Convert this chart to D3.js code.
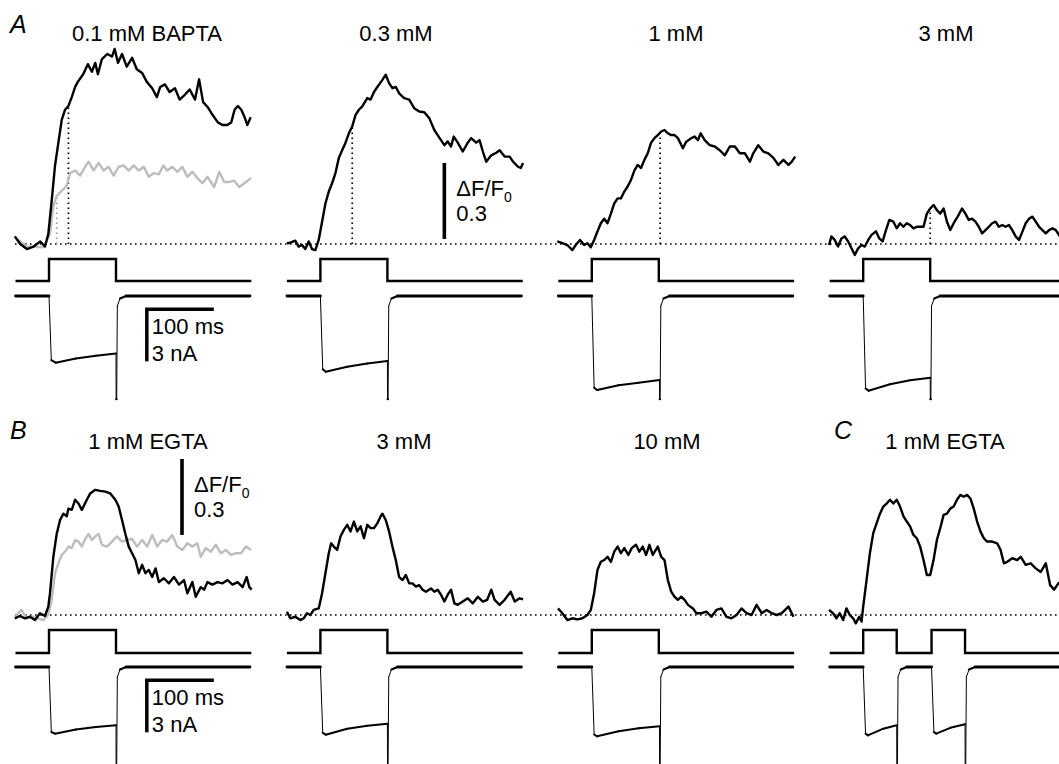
<!DOCTYPE html>
<html>
<head>
<meta charset="utf-8">
<script src="https://cdn.jsdelivr.net/npm/d3@7/dist/d3.min.js"></script>
<style>
  body { margin: 0; background: #fff; }
  svg { display: block; font-family: "Liberation Sans", Arial, Helvetica, sans-serif; }
</style>
</head>
<body>
<svg id="fig" width="1059" height="764"></svg>
<script>
// ---- data: time in ms (pulse onset = 0), fluorescence in dF/F0, current in nA ----
const panelTitles = ["0.1 mM BAPTA", "0.3 mM", "1 mM", "3 mM", "1 mM EGTA", "3 mM", "10 mM", "1 mM EGTA"];
const panelLetters = [["A", 0], ["B", 4], ["C", 7]];

const bapta01 = [[-51,0.03],[-43,0.0],[-33,-0.02],[-23,-0.01],[-13,0.01],[-6,-0.01],[-1,0.04],[4,0.17],[9,0.31],[14,0.40],[19,0.49],[24,0.53],[29,0.545],[34,0.58],[39,0.62],[43,0.64],[51,0.67],[58,0.71],[64,0.68],[69,0.715],[73,0.67],[79,0.73],[87,0.75],[94,0.74],[98,0.77],[103,0.715],[109,0.75],[116,0.70],[124,0.735],[131,0.69],[139,0.675],[146,0.64],[154,0.615],[161,0.58],[166,0.62],[173,0.63],[180,0.60],[188,0.615],[195,0.57],[203,0.59],[210,0.61],[218,0.57],[224,0.65],[230,0.56],[237,0.54],[244,0.51],[252,0.48],[259,0.47],[266,0.47],[272,0.48],[277,0.53],[282,0.545],[287,0.53],[292,0.50],[296,0.47],[301,0.50]];
const bapta01Ctrl = [[-51,0.026],[-33,-0.01],[-8,-0.013],[1.5,0.04],[6.5,0.15],[11.5,0.19],[19,0.21],[26.5,0.23],[31.5,0.28],[39,0.29],[46.5,0.27],[54,0.305],[59,0.325],[66.5,0.29],[74,0.32],[81.5,0.29],[89,0.305],[96.5,0.27],[104,0.305],[111.5,0.31],[119,0.29],[126.5,0.31],[134,0.29],[141.5,0.305],[149,0.265],[156.5,0.28],[164,0.275],[170.5,0.31],[176.5,0.29],[184,0.305],[191.5,0.285],[199,0.305],[206.5,0.265],[214,0.285],[221.5,0.26],[229,0.24],[236.5,0.265],[246.5,0.225],[254,0.285],[261.5,0.245],[269,0.245],[276.5,0.25],[284,0.225],[291.5,0.24],[301.5,0.26]];
const bapta03 = [[-50,0.003],[-45,0.005],[-37.5,0.013],[-32.5,-0.01],[-27.5,-0.004],[-22.5,-0.02],[-17.5,0.01],[-12.5,-0.02],[-7.5,-0.024],[-2.5,0.016],[2.5,0.088],[7.5,0.16],[12.5,0.207],[17.5,0.24],[22.5,0.28],[27.5,0.34],[32.5,0.37],[37.5,0.40],[42.5,0.437],[47.5,0.464],[52.5,0.51],[57.5,0.53],[62.5,0.543],[70,0.576],[75,0.57],[80,0.60],[85,0.62],[92.5,0.648],[97.5,0.668],[102.5,0.635],[107.5,0.615],[112.5,0.62],[117.5,0.595],[125,0.576],[132.5,0.57],[140,0.536],[147.5,0.523],[155,0.52],[162.5,0.497],[170,0.45],[175,0.43],[180,0.41],[185,0.39],[190,0.405],[195,0.385],[199,0.424],[205,0.40],[212.5,0.365],[220,0.40],[225,0.418],[232.5,0.40],[237.5,0.41],[242.5,0.365],[247.5,0.325],[255,0.35],[262.5,0.36],[267.5,0.37],[275,0.345],[282.5,0.345],[287.5,0.325],[295,0.305],[299,0.30],[302.5,0.32]];
const bapta1 = [[-51.5,0.01],[-44,0.003],[-36.5,-0.004],[-29,-0.024],[-24,-0.004],[-17.5,0.016],[-11.5,-0.004],[-6.5,0.003],[-1.5,-0.013],[3.5,0.016],[8.5,0.05],[13.5,0.082],[18.5,0.10],[23.5,0.082],[28.5,0.12],[33.5,0.16],[38.5,0.18],[43.5,0.18],[48.5,0.207],[53.5,0.227],[58.5,0.253],[63.5,0.29],[68.5,0.312],[73.5,0.30],[78.5,0.332],[83.5,0.358],[88.5,0.40],[93.5,0.418],[98.5,0.43],[103.5,0.444],[108.5,0.45],[113.5,0.437],[118.5,0.43],[123.5,0.43],[128.5,0.418],[136,0.378],[141,0.404],[148.5,0.418],[153.5,0.424],[158.5,0.41],[162.5,0.437],[168.5,0.41],[176,0.39],[183.5,0.385],[191,0.37],[198.5,0.35],[206,0.385],[213.5,0.385],[221,0.358],[228.5,0.358],[236,0.325],[241,0.358],[248.5,0.39],[256,0.365],[263.5,0.358],[271,0.34],[278.5,0.312],[286,0.332],[293.5,0.312],[298.5,0.325],[303.5,0.345]];
const bapta3 = [[-51,-0.004],[-47.5,0.03],[-42.5,0.016],[-37.5,-0.01],[-32.5,0.022],[-27.5,0.03],[-22.5,0.01],[-17.5,-0.017],[-12.5,-0.043],[-7.5,-0.017],[-2.5,-0.004],[2.5,-0.01],[7.5,0.016],[12.5,0.036],[19,0.05],[24,0.022],[29,0.01],[34,0.055],[39,0.095],[45,0.088],[50,0.062],[55,0.082],[60,0.068],[65,0.082],[70,0.075],[75,0.062],[80,0.068],[85,0.068],[90,0.068],[95,0.12],[100,0.14],[105,0.154],[110,0.134],[115,0.12],[120,0.14],[125,0.088],[130,0.055],[135,0.082],[141,0.108],[147.5,0.14],[152.5,0.12],[157.5,0.095],[162.5,0.10],[167.5,0.088],[172.5,0.068],[177.5,0.042],[182.5,0.055],[187.5,0.068],[192.5,0.082],[197.5,0.088],[202.5,0.068],[207.5,0.075],[212.5,0.068],[217.5,0.075],[222.5,0.055],[227.5,0.03],[232.5,0.016],[237.5,0.048],[242.5,0.082],[247.5,0.10],[252.5,0.108],[257.5,0.088],[262.5,0.068],[267.5,0.055],[272.5,0.042],[277.5,0.055],[282.5,0.062],[287.5,0.055],[293.5,0.03]];
const egta1 = [[-51,-0.013],[-43.5,-0.004],[-36,-0.013],[-28.5,-0.007],[-21,-0.02],[-13.5,0.007],[-6,-0.004],[-1,0.033],[1.5,0.086],[6.5,0.23],[11.5,0.32],[16.5,0.375],[21.5,0.40],[26.5,0.39],[29,0.42],[34,0.415],[39,0.455],[44,0.44],[49,0.415],[56.5,0.455],[61.5,0.48],[69,0.494],[76.5,0.49],[84,0.487],[91.5,0.48],[99,0.455],[104,0.428],[109,0.375],[114,0.32],[119,0.27],[124,0.244],[129,0.217],[134,0.165],[139,0.198],[144,0.165],[149,0.178],[154,0.15],[159,0.184],[164,0.13],[171.5,0.145],[179,0.125],[186.5,0.15],[194,0.12],[201.5,0.138],[206.5,0.086],[214,0.13],[219,0.072],[226.5,0.11],[231.5,0.10],[236.5,0.13],[244,0.12],[251.5,0.13],[259,0.125],[266.5,0.138],[274,0.12],[281.5,0.13],[289,0.11],[295,0.15],[299,0.11],[302.5,0.10]];
const egta1Ctrl = [[-51,-0.007],[-41,0.02],[-33.5,-0.013],[-23.5,-0.007],[-8.5,-0.02],[-1,0.0],[4,0.06],[9,0.165],[14,0.204],[19,0.237],[24,0.25],[29,0.27],[34,0.264],[39,0.296],[44,0.29],[49,0.27],[54,0.30],[59,0.32],[64,0.296],[69,0.31],[74,0.32],[79,0.277],[86.5,0.27],[94,0.29],[101.5,0.31],[109,0.29],[116.5,0.296],[124,0.30],[131.5,0.27],[139,0.296],[146.5,0.27],[154,0.316],[161.5,0.27],[169,0.296],[176.5,0.29],[184,0.316],[191.5,0.27],[199,0.257],[206.5,0.283],[214,0.27],[221.5,0.283],[226.5,0.23],[234,0.264],[241.5,0.25],[249,0.277],[256.5,0.244],[264,0.257],[271.5,0.237],[279,0.244],[286.5,0.244],[294,0.27],[301.5,0.257]];
const egta3 = [[-50,0.013],[-45,-0.013],[-37.5,-0.007],[-30,-0.02],[-25,-0.013],[-20,0.007],[-15,0.0],[-10,0.02],[-2.5,0.026],[2.5,0.086],[7.5,0.165],[12.5,0.244],[16,0.283],[20,0.27],[25,0.257],[30,0.31],[35,0.336],[40,0.356],[45,0.33],[50,0.369],[55,0.33],[60,0.35],[65,0.303],[70,0.356],[75,0.343],[80,0.343],[85,0.362],[90,0.39],[92.5,0.40],[97.5,0.375],[102.5,0.33],[107.5,0.27],[112.5,0.217],[117.5,0.15],[122.5,0.138],[127.5,0.158],[132.5,0.125],[137.5,0.125],[142.5,0.112],[147.5,0.118],[152.5,0.10],[157.5,0.092],[165,0.105],[170,0.092],[175,0.10],[180,0.08],[185,0.053],[190,0.08],[195,0.10],[200,0.046],[205,0.04],[212.5,0.053],[220,0.066],[227.5,0.046],[235,0.072],[242.5,0.053],[249,0.06],[255,0.10],[260,0.06],[267.5,0.04],[275,0.06],[284,0.092],[290,0.053],[297.5,0.066],[302.5,0.062]];
const egta10 = [[-50.5,0.026],[-44,0.007],[-36.5,-0.02],[-29,-0.013],[-21.5,-0.017],[-14,-0.013],[-6.5,0.0],[-1.5,0.02],[3.5,0.086],[8.5,0.178],[13.5,0.21],[18.5,0.217],[23.5,0.23],[28.5,0.21],[33.5,0.25],[38.5,0.27],[43.5,0.244],[48.5,0.264],[54.5,0.237],[59.5,0.264],[66,0.277],[71,0.25],[76,0.27],[81,0.237],[86,0.277],[91,0.237],[98.5,0.27],[103.5,0.23],[108.5,0.217],[113.5,0.138],[118.5,0.092],[123.5,0.072],[128.5,0.06],[133.5,0.072],[138.5,0.06],[143.5,0.04],[151,0.026],[156,0.007],[163.5,0.007],[171,0.013],[178.5,-0.007],[186,0.02],[193.5,0.026],[201,-0.007],[208.5,-0.013],[216,0.0],[223.5,0.026],[231,0.007],[238.5,0.0],[246,0.04],[253.5,0.007],[261,0.02],[268.5,0.007],[276,0.0],[283.5,0.007],[293.5,0.033],[301,-0.007]];
const egta1Pair = [[-51,0.02],[-45,0.007],[-40,-0.013],[-35,0.007],[-30,-0.02],[-25,0.026],[-20,0.0],[-15,-0.013],[-11,-0.033],[-6,-0.007],[-2.5,-0.026],[0,0.033],[5,0.138],[10,0.244],[15,0.323],[20,0.362],[25,0.40],[30,0.428],[35,0.44],[40,0.455],[45,0.44],[50,0.455],[55,0.428],[60,0.39],[65,0.369],[70,0.35],[75,0.316],[80,0.303],[85,0.27],[90,0.217],[95,0.158],[100,0.158],[105,0.217],[110,0.296],[115,0.343],[120,0.395],[125,0.40],[130,0.42],[135,0.428],[140,0.455],[145,0.474],[150,0.467],[155,0.474],[160,0.46],[165,0.42],[170,0.369],[175,0.33],[180,0.303],[185,0.29],[192.5,0.29],[200,0.283],[205,0.257],[210,0.204],[215,0.21],[222.5,0.224],[230,0.217],[235,0.23],[242.5,0.198],[250,0.204],[257.5,0.184],[265,0.17],[272.5,0.204],[279,0.118],[285,0.10],[292.5,0.13]];

// time-to-peak markers (ms) for the black and grey traces
const marksBlack = [29, 47.5, 102, 100, null, null, null, null];
const marksGrey = [11.5, null, null, null, null, null, null, null];

// depolarising pulses (start, end in ms)
const pulsesSingle = [[0, 100]];
const pulsesPair = [[0, 50], [102, 152]];

// membrane currents, nA
const curA1 = [[-50,0],[0,0],[3.5,-3.85],[10,-4.0],[40,-3.75],[70,-3.58],[100,-3.45],[100.2,-6.2],[101,-6.2],[102,-0.6],[106,-0.15],[115,0],[300,0]];
const curA2 = [[-50,0],[0,0],[3.5,-4.4],[8,-4.54],[40,-4.25],[70,-4.05],[100,-3.9],[100.2,-6.2],[101,-6.2],[102,-0.6],[106,-0.15],[115,0],[300,0]];
const curA3 = [[-50,0],[0,0],[3.5,-5.5],[8,-5.64],[40,-5.35],[70,-5.2],[101,-5.04],[101.2,-6.2],[102,-6.2],[103,-0.6],[107,-0.15],[116,0],[300,0]];
const curA4 = [[-50,0],[0,0],[3.5,-5.55],[8,-5.68],[40,-5.3],[70,-5.05],[100,-4.9],[100.2,-6.2],[101,-6.2],[102,-0.6],[106,-0.15],[115,0],[300,0]];
const curB1 = [[-50,0],[0,0],[3.5,-3.9],[9,-4.0],[40,-3.75],[70,-3.6],[100,-3.5],[100.2,-6.2],[101,-6.2],[102,-0.6],[106,-0.15],[115,0],[300,0]];
const curB2 = [[-50,0],[0,0],[3.5,-3.95],[8,-4.06],[40,-3.7],[70,-3.52],[100,-3.4],[100.2,-6.2],[101,-6.2],[102,-0.6],[106,-0.15],[115,0],[300,0]];
const curB3 = [[-50,0],[0,0],[3.5,-4.05],[8,-4.16],[40,-3.85],[70,-3.68],[101,-3.56],[101.2,-6.2],[102,-6.2],[103,-0.6],[107,-0.15],[116,0],[300,0]];
const curC = [[-50,0],[0,0],[3.5,-4.0],[7,-4.1],[30,-3.7],[50,-3.5],[50.2,-6.2],[51,-6.2],[52,-0.6],[56,-0.15],[65,0],[102,0],[105.5,-3.9],[109,-4.0],[130,-3.65],[152,-3.44],[152.2,-6.2],[153,-6.2],[154,-0.6],[158,-0.15],[167,0],[300,0]];

// ---- layout ----
const W = 1059, H = 764;
const rows = [
  { fBase: 244, vLow: 281, vHigh: 259, iBase: 296, titleY: 41, letterY: 33 },
  { fBase: 615, vLow: 653, vHigh: 630, iBase: 667, titleY: 449, letterY: 439 }
];
const colX = [49, 320.4, 591.8, 863.2];
const titleX = [147, 396, 676, 946, 148, 404, 667, 945];
const traceEnd = 302;

const panels = [
  { black: bapta01, grey: bapta01Ctrl, pulses: pulsesSingle, current: curA1 },
  { black: bapta03, pulses: pulsesSingle, current: curA2 },
  { black: bapta1, pulses: pulsesSingle, current: curA3 },
  { black: bapta3, pulses: pulsesSingle, current: curA4 },
  { black: egta1, grey: egta1Ctrl, pulses: pulsesSingle, current: curB1 },
  { black: egta3, pulses: pulsesSingle, current: curB2 },
  { black: egta10, pulses: pulsesSingle, current: curB3 },
  { black: egta1Pair, pulses: pulsesPair, current: curC }
];

const svg = d3.select("#fig");
const fontSize = 22;
const dots = "1.6,3.4";

function valueAt(trace, t) {
  for (let i = 1; i < trace.length; i++) {
    if (trace[i][0] >= t) {
      const a = trace[i - 1], b = trace[i];
      return a[1] + (b[1] - a[1]) * (t - a[0]) / (b[0] - a[0]);
    }
  }
  return trace[trace.length - 1][1];
}

// dotted baselines across each row
rows.forEach(r => {
  svg.append("line")
    .attr("x1", 15).attr("x2", W)
    .attr("y1", r.fBase).attr("y2", r.fBase)
    .attr("stroke", "#000").attr("stroke-width", 1.7)
    .attr("stroke-dasharray", dots);
});

const scales = [];

panels.forEach((p, i) => {
  const r = rows[i < 4 ? 0 : 1];
  const x0 = colX[i % 4];
  const x = d3.scaleLinear().domain([0, 100]).range([x0, x0 + 67]);
  const yF = d3.scaleLinear().domain([0, 0.3]).range([r.fBase, r.fBase - 76]);
  const yI = d3.scaleLinear().domain([0, -3]).range([r.iBase, r.iBase + 50]);
  const yV = d3.scaleLinear().domain([0, 1]).range([r.vLow, r.vHigh]);
  scales.push({ x, yF, yI, yV });

  const g = svg.append("g");
  const fLine = d3.line().x(d => x(d[0])).y(d => yF(d[1]));

  // time-to-peak markers
  if (marksGrey[i] != null) {
    g.append("line")
      .attr("x1", x(marksGrey[i])).attr("x2", x(marksGrey[i]))
      .attr("y1", yF(0)).attr("y2", yF(valueAt(p.grey, marksGrey[i])))
      .attr("stroke", "#999").attr("stroke-width", 1.7).attr("stroke-dasharray", dots);
  }
  if (marksBlack[i] != null) {
    g.append("line")
      .attr("x1", x(marksBlack[i])).attr("x2", x(marksBlack[i]))
      .attr("y1", yF(0)).attr("y2", yF(valueAt(p.black, marksBlack[i])))
      .attr("stroke", "#000").attr("stroke-width", 1.7).attr("stroke-dasharray", dots);
  }

  if (p.grey) {
    g.append("path").datum(p.grey)
      .attr("d", fLine).attr("fill", "none")
      .attr("stroke", "#bdbdbd").attr("stroke-width", 2.4).attr("stroke-linejoin", "round");
  }
  g.append("path").datum(p.black)
    .attr("d", fLine).attr("fill", "none")
    .attr("stroke", "#000").attr("stroke-width", 2.4).attr("stroke-linejoin", "round");

  // voltage command
  const step = [[-50, 0]];
  p.pulses.forEach(([a, b]) => { step.push([a, 0], [a, 1], [b, 1], [b, 0]); });
  step.push([traceEnd, 0]);
  g.append("path").datum(step)
    .attr("d", d3.line().x(d => x(d[0])).y(d => yV(d[1])))
    .attr("fill", "none").attr("stroke", "#000").attr("stroke-width", 2.4);

  // current: flat parts drawn heavier than fast transitions
  const cur = p.current;
  for (let k = 1; k < cur.length; k++) {
    const a = cur[k - 1], b = cur[k];
    const dx = Math.abs(x(b[0]) - x(a[0])), dy = Math.abs(yI(b[1]) - yI(a[1]));
    g.append("line")
      .attr("x1", x(a[0])).attr("y1", yI(a[1]))
      .attr("x2", x(b[0])).attr("y2", yI(b[1]))
      .attr("stroke", "#000")
      .attr("stroke-width", dy > dx * 2 ? 1 : (a[1] === 0 && b[1] === 0 ? 2.8 : 2))
      .attr("stroke-linecap", "round");
  }

  g.append("text")
    .attr("x", titleX[i]).attr("y", r.titleY)
    .attr("text-anchor", "middle").attr("font-size", fontSize)
    .text(panelTitles[i]);
});

// panel letters
panelLetters.forEach(([txt, idx]) => {
  const r = rows[idx < 4 ? 0 : 1];
  const lx = idx === 7 ? 834 : 10;
  svg.append("text")
    .attr("x", lx).attr("y", r.letterY)
    .attr("font-size", 25).attr("font-style", "italic")
    .text(txt);
});

// scale bars: 100 ms / 3 nA
[0, 4].forEach(i => {
  const s = scales[i];
  const t0 = 146, iTop = -0.8;
  const xa = s.x(t0), xb = s.x(t0 + 100);
  const ya = s.yI(iTop), yb = s.yI(iTop - 3);
  svg.append("line").attr("x1", xa - 1.75).attr("x2", xb).attr("y1", ya).attr("y2", ya)
    .attr("stroke", "#000").attr("stroke-width", 3.5);
  svg.append("line").attr("x1", xa).attr("x2", xa).attr("y1", ya).attr("y2", yb + 2)
    .attr("stroke", "#000").attr("stroke-width", 3.5);
  svg.append("text").attr("x", xa + 5).attr("y", ya + 25).attr("font-size", fontSize).text("100 ms");
  svg.append("text").attr("x", xa + 5).attr("y", yb + 2).attr("font-size", fontSize).text("3 nA");
});

// scale bars: dF/F0 0.3
[[1, 185, 0.02], [4, 198.5, 0.316]].forEach(([i, t, v0]) => {
  const s = scales[i];
  const xa = s.x(t);
  const top = s.yF(v0 + 0.3);
  svg.append("line").attr("x1", xa).attr("x2", xa)
    .attr("y1", s.yF(v0)).attr("y2", top)
    .attr("stroke", "#000").attr("stroke-width", 3.6);
  const tx = svg.append("text").attr("x", xa + 12).attr("y", top + 33).attr("font-size", fontSize);
  tx.append("tspan").text("\u0394F/F");
  tx.append("tspan").attr("font-size", 14).attr("dy", 6).text("0");
  svg.append("text").attr("x", xa + 12).attr("y", top + 58).attr("font-size", fontSize).text("0.3");
});
</script>
</body>
</html>
